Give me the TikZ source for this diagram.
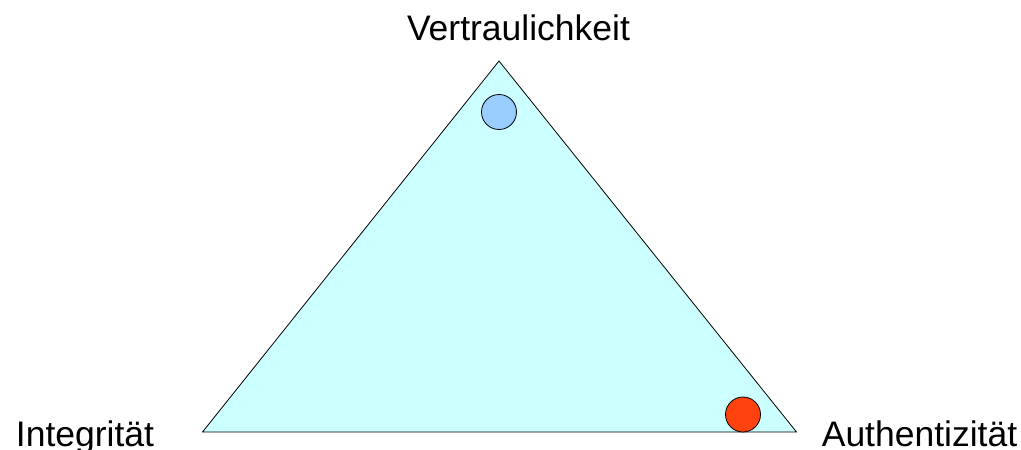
\documentclass[tikz,border=0pt]{standalone}
\usepackage{fontspec}
\setmainfont{Liberation Sans}
\begin{document}
\begin{tikzpicture}[x=1pt,y=-1pt,
  lbl/.style={inner sep=0pt,anchor=base,font=\fontsize{35.5}{40}\selectfont},
  tri/.style={draw=black,line width=0.8pt,fill=tricol,line join=miter},
  dot/.style={draw=black,line width=0.8pt,circle,minimum size=35pt,inner sep=0pt}]
\definecolor{tricol}{HTML}{CCFFFF}
\definecolor{bluecol}{HTML}{99CCFF}
\definecolor{redcol}{HTML}{FF420E}
\useasboundingbox (0,0) rectangle (1021,450);
\coordinate (top) at (499,61);
\coordinate (bl) at (202.5,432);
\coordinate (br) at (796.5,432);
\draw[tri] (top) -- (br) -- (bl) -- cycle;
\node[dot,fill=bluecol] (conf) at (499,112) {};
\node[dot,fill=redcol] (auth) at (743,414.5) {};
\node[lbl] (v) at (518.5,40) {Vertraulichkeit};
\node[lbl] (i) at (85,446) {Integrität};
\node[lbl] (a) at (919.5,446) {Authentizität};
\end{tikzpicture}
\end{document}
